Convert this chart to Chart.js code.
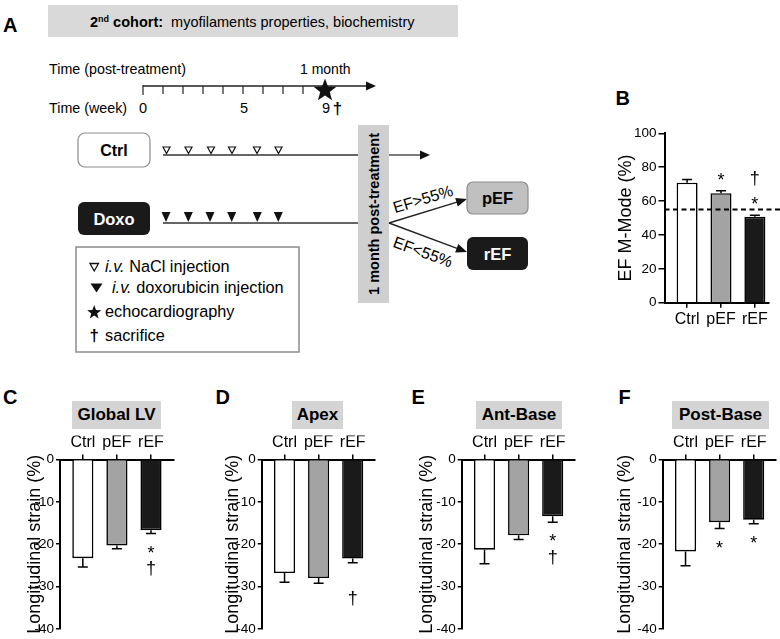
<!DOCTYPE html>
<html>
<head>
<meta charset="utf-8">
<script src="https://cdn.jsdelivr.net/npm/chart.js@4.4.1/dist/chart.umd.min.js"></script>
<style>
  html, body { margin: 0; padding: 0; background: #fff; }
  body { width: 780px; height: 639px; position: relative; overflow: hidden;
         font-family: "Liberation Sans", Arial, sans-serif; color: #000; }
  .letter { position: absolute; font-weight: bold; font-size: 20px; line-height: 20px; }
  .tbox { position: absolute; top: 401px; height: 28px; line-height: 28px; background: #d4d4d4;
          font-weight: bold; font-size: 17px; text-align: center; }
  svg { position: absolute; left: 0; top: 0; }
  svg text { font-family: "Liberation Sans", Arial, sans-serif; }
</style>
</head>
<body>

<svg width="600" height="360" viewBox="0 0 600 360">
  <text x="3" y="32" font-size="20" font-weight="bold">A</text>
  <rect x="48" y="5" width="410" height="32" fill="#d9d9d9"/>
  <text x="90" y="27" font-size="14.5"><tspan font-weight="bold">2</tspan><tspan font-weight="bold" font-size="9" dy="-5">nd</tspan><tspan font-weight="bold" dy="5"> cohort:</tspan><tspan>&#160; myofilaments properties, biochemistry</tspan></text>

  <!-- timeline -->
  <text x="49" y="74" font-size="14.3">Time (post-treatment)</text>
  <text x="300" y="74" font-size="14">1 month</text>
  <line x1="143" y1="86" x2="368" y2="86" stroke="#222" stroke-width="1.3"/>
  <polygon points="366,81.5 376,86 366,90.5" fill="#111"/>
  <g stroke="#222" stroke-width="1.2">
    <line x1="143" y1="85" x2="143" y2="95"/><line x1="163" y1="86" x2="163" y2="94"/>
    <line x1="183" y1="86" x2="183" y2="94"/><line x1="203" y1="86" x2="203" y2="94"/>
    <line x1="223" y1="86" x2="223" y2="94"/><line x1="243" y1="86" x2="243" y2="94"/>
    <line x1="263" y1="86" x2="263" y2="94"/><line x1="283" y1="86" x2="283" y2="94"/>
    <line x1="303" y1="86" x2="303" y2="94"/>
  </g>
  <polygon id="bigStar" fill="#111"/>
  <text x="49" y="113" font-size="14.3">Time (week)</text>
  <text x="143" y="113" font-size="14.5" text-anchor="middle">0</text>
  <text x="244" y="113" font-size="14.5" text-anchor="middle">5</text>
  <text x="326" y="113" font-size="14.5" text-anchor="middle">9</text>
  <text x="337.5" y="114" font-size="17" font-weight="bold" text-anchor="middle">†</text>

  <!-- Ctrl row -->
  <rect x="78" y="133" width="72" height="34" rx="7" fill="#fff" stroke="#8c8c8c" stroke-width="1.2"/>
  <text x="114" y="156" font-size="16" font-weight="bold" text-anchor="middle">Ctrl</text>
  <line x1="163" y1="155" x2="358" y2="155" stroke="#333" stroke-width="1.3"/>
  <g fill="#fff" stroke="#111" stroke-width="1.2">
    <polygon points="163,147 170,147 166.5,153.5"/>
    <polygon points="185,147 192,147 188.5,153.5"/>
    <polygon points="207.5,147 214.5,147 211,153.5"/>
    <polygon points="228.5,147 235.5,147 232,153.5"/>
    <polygon points="253.5,147 260.5,147 257,153.5"/>
    <polygon points="275,147 282,147 278.5,153.5"/>
  </g>
  <line x1="389" y1="155" x2="421" y2="155" stroke="#333" stroke-width="1.3"/>
  <polygon points="420,150.5 430,155 420,159.5" fill="#111"/>

  <!-- Doxo row -->
  <rect x="78" y="202" width="72" height="33" rx="6" fill="#1a1a1a"/>
  <text x="114" y="224.5" font-size="16.5" font-weight="bold" fill="#fff" text-anchor="middle">Doxo</text>
  <line x1="163" y1="223" x2="358" y2="223" stroke="#333" stroke-width="1.3"/>
  <g fill="#111">
    <polygon points="161.5,212 170.5,212 166,222"/>
    <polygon points="183.8,212 192.8,212 188.3,222"/>
    <polygon points="205.5,212 214.5,212 210,222"/>
    <polygon points="227.2,212 236.2,212 231.7,222"/>
    <polygon points="252.8,212 261.8,212 257.3,222"/>
    <polygon points="273.8,212 282.8,212 278.3,222"/>
  </g>

  <!-- post-treatment bar -->
  <rect x="358" y="125" width="31" height="178" fill="#cfcfcf"/>
  <text transform="translate(374,214) rotate(-90)" font-size="14.5" font-weight="bold" text-anchor="middle" dominant-baseline="central">1 month post-treatment</text>

  <!-- branches -->
  <line x1="389" y1="223" x2="457" y2="202.2" stroke="#222" stroke-width="1.4"/>
  <polygon points="467,199 457.8,206.5 455.2,197.9" fill="#111"/>
  <line x1="389" y1="223" x2="457" y2="248.3" stroke="#222" stroke-width="1.4"/>
  <polygon points="467,252 455.1,252.4 458.3,244.0" fill="#111"/>
  <text transform="translate(423,199) rotate(-17)" font-size="16" text-anchor="middle" dominant-baseline="central">EF&gt;55%</text>
  <text transform="translate(423,252) rotate(20)" font-size="16" text-anchor="middle" dominant-baseline="central">EF&lt;55%</text>
  <rect x="467" y="182" width="61" height="32" rx="6" fill="#c0c0c0" stroke="#8c8c8c" stroke-width="1.2"/>
  <text x="497.5" y="204" font-size="16.5" font-weight="bold" text-anchor="middle">pEF</text>
  <rect x="467" y="237" width="61" height="33" rx="6" fill="#1a1a1a"/>
  <text x="497.5" y="259.5" font-size="16.5" font-weight="bold" fill="#fff" text-anchor="middle">rEF</text>

  <!-- legend -->
  <rect x="76" y="247" width="223" height="105" fill="#fff" stroke="#8c8c8c" stroke-width="1.5"/>
  <polygon points="90,263.5 98.5,263.5 94.25,271" fill="#fff" stroke="#111" stroke-width="1.3"/>
  <text x="105" y="272" font-size="16.3"><tspan font-style="italic">i.v.</tspan> NaCl injection</text>
  <polygon points="90.5,283.5 102.5,283.5 96.5,292.5" fill="#111"/>
  <text x="112" y="292.5" font-size="16.3"><tspan font-style="italic">i.v.</tspan> doxorubicin injection</text>
  <polygon id="smallStar" fill="#111"/>
  <text x="105" y="316.5" font-size="16.3">echocardiography</text>
  <text x="94.3" y="341" font-size="17" font-weight="bold" text-anchor="middle">†</text>
  <text x="105" y="341" font-size="16.3">sacrifice</text>
</svg>

<div class="letter" style="left:615.5px; top:87.5px;">B</div>
<div class="letter" style="left:3px; top:387px;">C</div>
<div class="letter" style="left:215.5px; top:387px;">D</div>
<div class="letter" style="left:411.5px; top:387px;">E</div>
<div class="letter" style="left:618.5px; top:387px;">F</div>

<div class="tbox" style="left:72px; width:89px;">Global LV</div>
<div class="tbox" style="left:292px; width:51px;">Apex</div>
<div class="tbox" style="left:476px; width:86px;">Ant-Base</div>
<div class="tbox" style="left:672px; width:97px;">Post-Base</div>

<script>
// groups shared by every panel
const groups = ["Ctrl", "pEF", "rEF"];
const groupFills = ["#ffffff", "#a3a3a3", "#1a1a1a"];

// B: EF M-mode (%)
const efMean = [70.8, 64.6, 50.8];
const efSem = [2.0, 1.5, 0.8];
const efMarks = [[], ["*"], ["*", "†"]];
const efThreshold = 55;
const efTicks = [0, 20, 40, 60, 80, 100];

// C-F: longitudinal strain (%)
const strainTicks = [-40, -30, -20, -10, 0];

const globalMean = [-23.3, -20.3, -16.7];
const globalSem = [2.1, 0.8, 0.8];
const globalMarks = [[], [], ["*", "†"]];

const apexMean = [-26.8, -28.0, -23.4];
const apexSem = [2.2, 1.2, 1.0];
const apexMarks = [[], [], ["", "†"]];

const antMean = [-21.3, -17.9, -13.4];
const antSem = [3.3, 1.0, 1.4];
const antMarks = [[], [], ["*", "†"]];

const postMean = [-21.7, -14.8, -14.2];
const postSem = [3.4, 1.5, 1.0];
const postMarks = [[], ["*"], ["*"]];

// stars of the schematic
function starPoints(cx, cy, R, r) {
    const pts = [];
    for (let i = 0; i < 10; i++) {
        const a = -Math.PI / 2 + i * Math.PI / 5;
        const rad = i % 2 ? r : R;
        pts.push((cx + rad * Math.cos(a)).toFixed(2) + "," + (cy + rad * Math.sin(a)).toFixed(2));
    }
    return pts.join(" ");
}
document.getElementById("bigStar").setAttribute("points", starPoints(325, 90.5, 12, 5));
document.getElementById("smallStar").setAttribute("points", starPoints(94.2, 312.5, 7.4, 3.1));

Chart.defaults.font.family = '"Liberation Sans", Arial, sans-serif';
Chart.defaults.color = "#000";

// error bars + significance symbols, placed with the y scale
const errorBars = {
    id: "errorBars",
    afterDatasetsDraw(chart, args, opts) {
        const { ctx, scales: { y } } = chart;
        const meta = chart.getDatasetMeta(0);
        ctx.save();
        ctx.strokeStyle = "#000";
        ctx.fillStyle = "#000";
        ctx.lineWidth = 1.5;
        opts.mean.forEach((m, i) => {
            const x = meta.data[i].x;
            const y0 = y.getPixelForValue(m);
            const y1 = y.getPixelForValue(m + Math.sign(m) * opts.sem[i]);
            ctx.beginPath();
            ctx.moveTo(x, y0);
            ctx.lineTo(x, y1);
            ctx.moveTo(x - 5, y1);
            ctx.lineTo(x + 5, y1);
            ctx.stroke();

            const dir = y1 > y0 ? 1 : -1;
            ctx.font = '18px "Liberation Sans", Arial, sans-serif';
            ctx.textAlign = "center";
            ctx.textBaseline = "alphabetic";
            opts.marks[i].forEach((s, k) => {
                const c = y1 + dir * (15 + 21 * k);
                const lift = s === "*" ? 0.56 : 0.26;
                ctx.fillText(s, x, c + lift * 18);
            });
        });
        ctx.restore();
    },
};

const refLine = {
    id: "refLine",
    afterDatasetsDraw(chart, args, opts) {
        if (opts.value == null) return;
        const { ctx, chartArea, scales: { y } } = chart;
        const py = y.getPixelForValue(opts.value);
        ctx.save();
        ctx.setLineDash([5, 3.5]);
        ctx.lineWidth = 2;
        ctx.strokeStyle = "#000";
        ctx.beginPath();
        ctx.moveTo(chartArea.left, py);
        ctx.lineTo(chart.width, py);
        ctx.stroke();
        ctx.restore();
    },
};

function drawPanel(o) {
    const wrap = document.createElement("div");
    wrap.style.cssText = `position:absolute;left:${o.left}px;top:${o.top}px;width:${o.width}px;height:${o.height}px;`;
    const canvas = document.createElement("canvas");
    canvas.width = o.width;
    canvas.height = o.height;
    wrap.appendChild(canvas);
    document.body.appendChild(wrap);

    const onTop = o.xPosition === "top";
    const padLeft = o.titleX - 10.8 - o.left;
    const axisW = o.axisX - o.left - padLeft;
    const areaTop = o.plotTop - o.top;
    const areaBottom = o.plotBottom - o.top;
    const padding = {
        left: padLeft,
        right: o.left + o.width - o.plotRight,
        top: onTop ? areaTop - o.xHeight : areaTop,
        bottom: onTop ? o.height - areaBottom : o.height - areaBottom - o.xHeight,
    };

    new Chart(canvas, {
        type: "bar",
        data: {
            datasets: [
                {
                    data: o.mean.map((v, i) => ({ x: i + 1, y: v })),
                    backgroundColor: groupFills,
                    borderColor: "#000",
                    borderWidth: 1.6,
                    barPercentage: 0.62,
                    categoryPercentage: 1,
                },
            ],
        },
        options: {
            responsive: false,
            animation: false,
            devicePixelRatio: 1,
            layout: { padding },
            plugins: {
                legend: { display: false },
                tooltip: { enabled: false },
                errorBars: { mean: o.mean, sem: o.sem, marks: o.marks },
                refLine: { value: o.refValue },
            },
            scales: {
                x: {
                    type: "linear",
                    position: o.xPosition,
                    min: o.xMin,
                    max: o.xMax,
                    offset: false,
                    bounds: "data",
                    afterBuildTicks: (s) => {
                        s.ticks = groups.map((g, i) => ({ value: i + 1 }));
                    },
                    ticks: {
                        callback: (v, i) => groups[i],
                        font: { size: 16 },
                        color: "#000",
                        padding: 2,
                        maxRotation: 0,
                        autoSkip: false,
                    },
                    grid: { drawOnChartArea: false, offset: false, color: "#000", lineWidth: 1.5, tickLength: 5 },
                    border: { color: "#000", width: 2 },
                    afterFit: (s) => {
                        s.height = o.xHeight;
                    },
                },
                y: {
                    min: o.yMin,
                    max: o.yMax,
                    afterBuildTicks: (s) => {
                        s.ticks = o.yTicks.map((v) => ({ value: v }));
                    },
                    ticks: { font: { size: 13.5 }, color: "#000", padding: 2 },
                    grid: { drawOnChartArea: false, color: "#000", lineWidth: 1.5, tickLength: o.yTickLen },
                    border: { color: "#000", width: 2 },
                    title: { display: true, text: o.yTitle, font: { size: 18 }, color: "#000", padding: 0 },
                    afterFit: (s) => {
                        s.width = axisW;
                    },
                },
            },
        },
        plugins: [errorBars, refLine],
    });
}

// B
drawPanel({
    left: 590, top: 110, width: 190, height: 230,
    axisX: 664.5, titleX: 625.6, plotRight: 769, plotTop: 133.3, plotBottom: 302.7,
    xPosition: "bottom", xHeight: 30, xMin: 0.333, xMax: 3.417,
    yMin: 0, yMax: 100, yTicks: efTicks, yTickLen: 6, yTitle: "EF M-Mode (%)",
    mean: efMean, sem: efSem, marks: efMarks, refValue: efThreshold,
});

const strainPanels = [
    { left: 0, axisX: 60, titleX: 35, mean: globalMean, sem: globalSem, marks: globalMarks },
    { left: 195, axisX: 261.7, titleX: 232.6, mean: apexMean, sem: apexSem, marks: apexMarks },
    { left: 390, axisX: 461.7, titleX: 426.6, mean: antMean, sem: antSem, marks: antMarks },
    { left: 585, axisX: 662.7, titleX: 624.6, mean: postMean, sem: postSem, marks: postMarks },
];
strainPanels.forEach((p) => {
    drawPanel({
        ...p,
        top: 430, width: 195, height: 209,
        plotRight: p.axisX + 113.5, plotTop: 459.5, plotBottom: 629.3,
        xPosition: "top", xHeight: 24, xMin: 0.33, xMax: 3.66,
        yMin: -40, yMax: 0, yTicks: strainTicks, yTickLen: 4, yTitle: "Longitudinal strain (%)",
        refValue: null,
    });
});
</script>
</body>
</html>
